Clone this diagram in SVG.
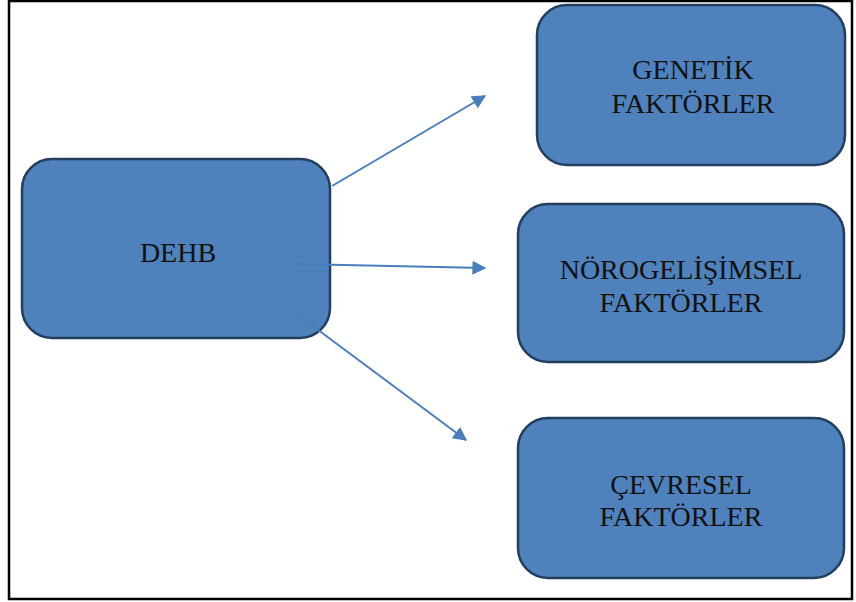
<svg xmlns="http://www.w3.org/2000/svg" width="856" height="602" viewBox="0 0 856 602">
<defs>
<style>
.box{fill:#4F81BD;stroke:#233E5F;stroke-width:2.5}
.lbl{font-family:"Liberation Serif","Times New Roman",serif;font-size:28px;fill:#111;text-anchor:middle}
.conn{stroke:#4A7EBB;stroke-width:2;fill:none;marker-end:url(#ah)}
</style>
<marker id="ah" viewBox="0 0 10 10" refX="9" refY="5" markerWidth="7" markerHeight="7" markerUnits="strokeWidth" orient="auto">
<path d="M0,0 L10,5 L0,10 z" fill="#4A7EBB"/>
</marker>
</defs>
<rect x="9" y="1" width="843" height="598" fill="#fff" stroke="#000" stroke-width="2.5"/>
<g id="dehb">
<rect class="box" x="22" y="159" width="308" height="179" rx="30"/>
<text class="lbl" x="178" y="262">DEHB</text>
</g>
<g id="genetik">
<rect class="box" x="537" y="5" width="308" height="160" rx="30"/>
<text class="lbl" x="693" y="79">GENETİK</text>
<text class="lbl" x="693" y="113">FAKTÖRLER</text>
</g>
<g id="norogelisimsel">
<rect class="box" x="518" y="204" width="326" height="158" rx="30"/>
<text class="lbl" x="681" y="279">NÖROGELİŞİMSEL</text>
<text class="lbl" x="681" y="312">FAKTÖRLER</text>
</g>
<g id="cevresel">
<rect class="box" x="518" y="418" width="326" height="160" rx="30"/>
<text class="lbl" x="681" y="494">ÇEVRESEL</text>
<text class="lbl" x="681" y="526">FAKTÖRLER</text>
</g>
<g id="connectors">
<line class="conn" x1="332" y1="186" x2="485" y2="96"/>
<line class="conn" x1="296" y1="264" x2="485" y2="268"/>
<line class="conn" x1="294" y1="312" x2="466" y2="440"/>
</g>
</svg>
